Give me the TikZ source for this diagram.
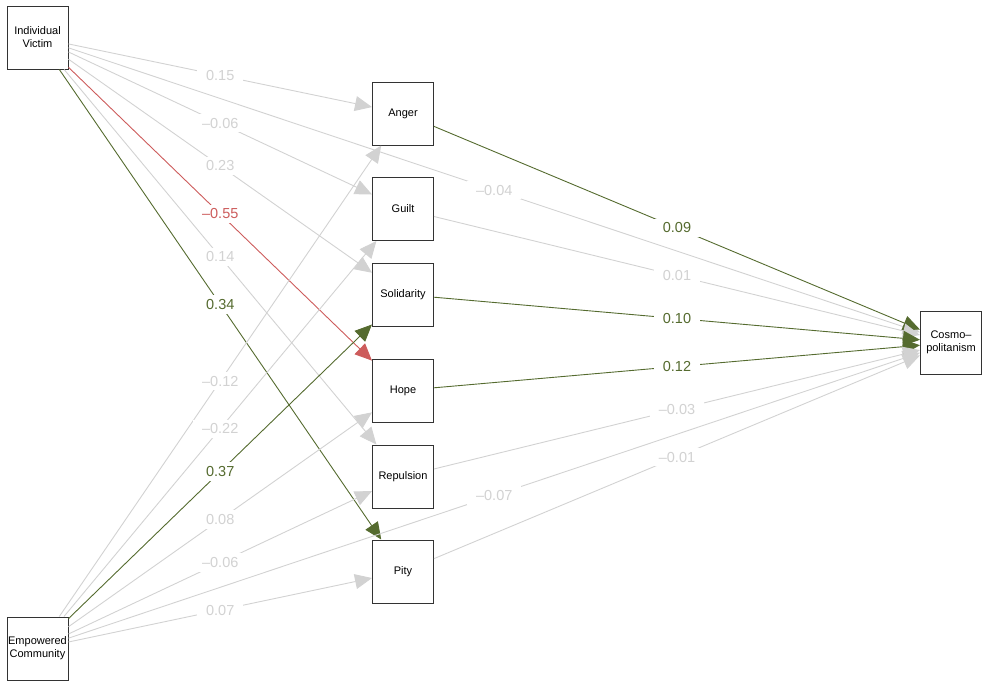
\documentclass[tikz,border=0pt]{standalone}
\usepackage{fontspec}
\setmainfont{Liberation Sans}
\usetikzlibrary{arrows.meta,positioning}
\definecolor{nsgrey}{RGB}{210,210,210}
\definecolor{posgreen}{RGB}{85,107,47}
\definecolor{negred}{RGB}{205,92,92}
\tikzset{
    varbox/.style = {draw=black!80, line width=1pt, minimum width=61pt, minimum height=63pt, inner sep=1pt, align=center, font=\fontsize{11}{13}\selectfont},
    coef/.style = {midway, fill=white, inner xsep=9pt, inner ysep=4pt, font=\fontsize{14.5}{16}\selectfont},
    nsedge/.style = {color=nsgrey, line width=0.9pt, -{Triangle[length=17pt,width=15pt]}},
    posedge/.style = {color=posgreen, line width=0.9pt, -{Triangle[length=17pt,width=15pt]}},
    negedge/.style = {color=negred, line width=0.9pt, -{Triangle[length=17pt,width=15pt]}}
}

\begin{document}
\begin{tikzpicture}[x=1pt,y=-1pt]
                \useasboundingbox (0,0) rectangle (982,681);

                %% exogenous
                \node[varbox] (iv) at (37.5,37.5) {Individual\\Victim};
                \node[varbox] (ec) at (37.5,648.5) {Empowered\\Community};

                %% emotions
                \node[varbox] (anger) at (403,113.5) {Anger};
                \node[varbox] (guilt) at (403,209) {Guilt};
                \node[varbox] (solid) at (403,294.5) {Solidarity};
                \node[varbox] (hope) at (403,390.5) {Hope};
                \node[varbox] (repul) at (403,476.5) {Repulsion};
                \node[varbox] (pity) at (403,571.5) {Pity};

                %% outcome
                \node[varbox] (cosmo) at (951,342.5) {Cosmo–\\politanism};

                %% Individual Victim paths
                \draw[nsedge] (iv) -- node[coef] {0.15} (anger);
                \draw[nsedge] (iv) -- node[coef] {–0.06} (guilt);
                \draw[nsedge] (iv) -- node[coef] {0.23} (solid);
                \draw[negedge] (iv) -- node[coef] {–0.55} (hope);
                \draw[nsedge] (iv) -- node[coef] {0.14} (repul);
                \draw[posedge] (iv) -- node[coef] {0.34} (pity);
                \draw[nsedge] (iv) -- node[coef] {–0.04} (cosmo);

                %% Empowered Community paths
                \draw[nsedge] (ec) -- node[coef] {–0.12} (anger);
                \draw[nsedge] (ec) -- node[coef] {–0.22} (guilt);
                \draw[posedge] (ec) -- node[coef] {0.37} (solid);
                \draw[nsedge] (ec) -- node[coef] {0.08} (hope);
                \draw[nsedge] (ec) -- node[coef] {–0.06} (repul);
                \draw[nsedge] (ec) -- node[coef] {0.07} (pity);
                \draw[nsedge] (ec) -- node[coef] {–0.07} (cosmo);

                %% emotion paths
                \draw[posedge] (anger) -- node[coef] {0.09} (cosmo);
                \draw[nsedge] (guilt) -- node[coef] {0.01} (cosmo);
                \draw[posedge] (solid) -- node[coef] {0.10} (cosmo);
                \draw[posedge] (hope) -- node[coef] {0.12} (cosmo);
                \draw[nsedge] (repul) -- node[coef] {–0.03} (cosmo);
                \draw[nsedge] (pity) -- node[coef] {–0.01} (cosmo);

            \end{tikzpicture}
\end{document}
